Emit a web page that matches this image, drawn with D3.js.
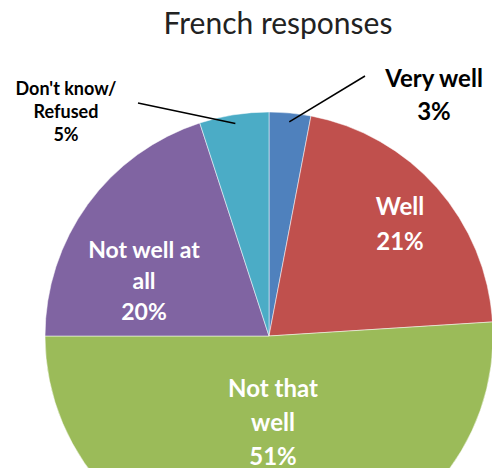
<!DOCTYPE html>
<html>
<head>
<meta charset="utf-8">
<script src="https://cdn.jsdelivr.net/npm/d3@7"></script>
<style>
  body { margin: 0; background: #fff; }
  text { font-family: Lato, "Open Sans", sans-serif; }
</style>
</head>
<body>
<svg width="492" height="468"></svg>
<script>
// Data
var categories = ['Very well', 'Well', 'Not that well', 'Not well at all', "Don't know/Refused"]
var values = [3, 21, 51, 20, 5]
var labelLines = [
  ['Very well', '3%'],
  ['Well', '21%'],
  ['Not that', 'well', '51%'],
  ['Not well at', 'all', '20%'],
  ["Don't know/", 'Refused', '5%']
]
var colors = ['#4f81bd', '#c0504d', '#9bbb59', '#8064a2', '#4bacc6']

// The svg
var svg = d3.select('svg'),
  width = +svg.attr('width'),
  height = +svg.attr('height')

var cx = 269, cy = 336, radius = 224

svg.append('text')
  .attr('x', 278)
  .attr('y', 34)
  .attr('text-anchor', 'middle')
  .style('font-size', '30px')
  .style('fill', '#222')
  .text('French responses')

var pie = d3.pie().sort(null).value(function(d) { return d })
var arc = d3.arc().innerRadius(0).outerRadius(radius)
var arcs = pie(values)

var g = svg.append('g').attr('transform', 'translate(' + cx + ',' + cy + ')')

g.selectAll('path')
  .data(arcs)
  .enter()
  .append('path')
  .attr('d', arc)
  .attr('fill', function(d, i) { return colors[i] })
  .attr('stroke', '#fff')
  .attr('stroke-width', 0.5)

// label layout: offset from pie centre, font size, colour, line spacing
var layout = [
  { x: 165, y: -249, size: 24, fill: '#000', step: 33 },
  { x: 131, y: -121, size: 24, fill: '#fff', step: 35 },
  { x: 4, y: 61, size: 24, fill: '#fff', step: 34 },
  { x: -125, y: -78, size: 23, fill: '#fff', step: 31 },
  { x: -203, y: -241, size: 18, fill: '#000', step: 23 }
]

// leader lines for the outside labels
var leaderEnd = { 0: [96, -260], 4: [-131, -233] }
arcs.forEach(function(d, i) {
  if (!leaderEnd[i]) return
  var mid = (d.startAngle + d.endAngle) / 2
  var r0 = radius * 0.96
  g.append('line')
    .attr('x1', Math.sin(mid) * r0)
    .attr('y1', -Math.cos(mid) * r0)
    .attr('x2', leaderEnd[i][0])
    .attr('y2', leaderEnd[i][1])
    .attr('stroke', '#000')
    .attr('stroke-width', 1.5)
})

arcs.forEach(function(d, i) {
  var L = layout[i]
  var t = g.append('text')
    .attr('text-anchor', 'middle')
    .style('font-size', L.size + 'px')
    .style('font-weight', 'bold')
    .style('fill', L.fill)
  labelLines[i].forEach(function(s, j) {
    t.append('tspan')
      .attr('x', L.x)
      .attr('y', L.y + j * L.step)
      .text(s)
  })
})
</script>
</body>
</html>
